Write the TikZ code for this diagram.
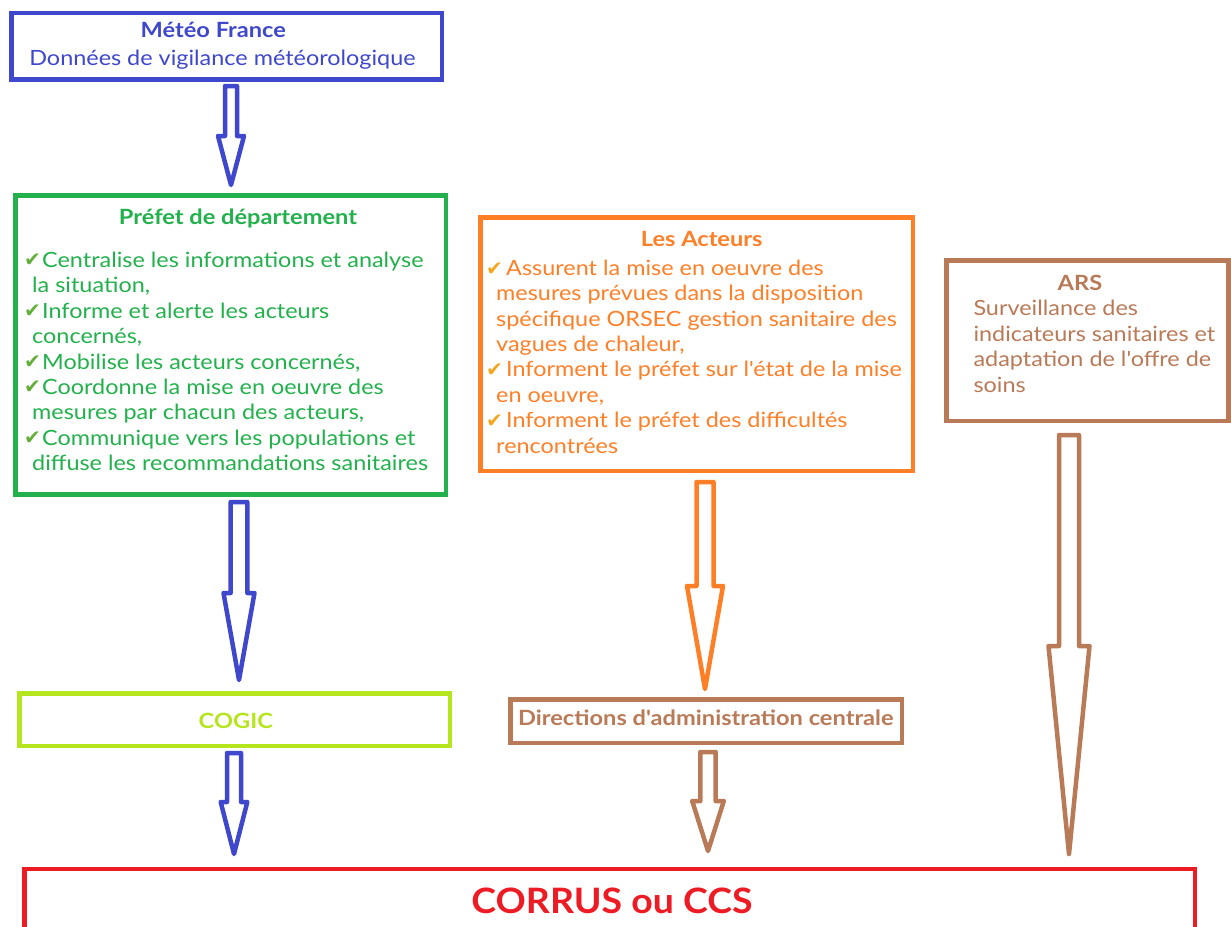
\documentclass[tikz,border=0pt]{standalone}
\usepackage{fontspec}
\newfontfamily\lato{Lato}[FakeStretch=1.115, BoldFeatures={FakeStretch=1.125}]
\newfontfamily\latoc{Lato}[FakeStretch=1.07]
\newfontfamily\symfont{DejaVu Sans}
\definecolor{cblue}{HTML}{3F48CC}
\definecolor{cgreen}{HTML}{22B14C}
\definecolor{corange}{HTML}{FF7F27}
\definecolor{cbrown}{HTML}{B97A57}
\definecolor{clime}{HTML}{B5E61D}
\definecolor{cred}{HTML}{ED1C24}
\definecolor{ckgreen}{RGB}{100,175,60}
\definecolor{ckorange}{RGB}{245,165,30}
\newcommand\fsnorm{\lato\fontsize{21}{25.4}\selectfont}
\newcommand\ckg{\makebox[18pt][l]{\raisebox{1pt}{\textcolor{ckgreen}{\symfont\fontsize{20}{20}\selectfont ✔}}}}
\newcommand\cko{\makebox[20pt][l]{\textcolor{ckorange}{\symfont\fontsize{20}{20}\selectfont ✔}}}
\newcommand\blockarrow[7]{%
  \draw[arrowshape, draw=#1] (#2-#4,#3) -- (#2+#4,#3) -- (#2+#4,#5) -- (#2+#6,#5)
    -- (#2,#7) -- (#2-#6,#5) -- (#2-#4,#5) -- cycle;}
\tikzset{
  box/.style={draw, line width=4.5pt, fill=white, inner sep=0pt},
  arrowshape/.style={line width=4.5pt, line join=round, fill=white},
  txt/.style={inner sep=0pt, font=\fsnorm},
  btxt/.style={inner sep=0pt, font=\fsnorm\bfseries},
}
\begin{document}
\begin{tikzpicture}[x=1pt,y=-1pt]
\useasboundingbox (0,0) rectangle (1231,926);
\clip (0,0) rectangle (1231,926);
\fill[white] (0,0) rectangle (1231,926);

% boxes
\node[box, draw=cblue, minimum width=430.5pt, minimum height=66.5pt] (meteo) at (226.75,46.25) {};
\node[box, draw=cgreen, minimum width=430.5pt, minimum height=299pt] (prefet) at (230.75,345) {};
\node[box, draw=corange, minimum width=432.3pt, minimum height=253.5pt] (acteurs) at (696.65,344.25) {};
\node[box, draw=cbrown, minimum width=282.2pt, minimum height=160.5pt] (ars) at (1087.4,340.75) {};
\node[box, draw=clime, minimum width=430.5pt, minimum height=52.7pt] (cogic) at (234.75,719.65) {};
\node[box, draw=cbrown, minimum width=391.5pt, minimum height=43.3pt] (dac) at (706.25,721.15) {};
\node[box, draw=cred, minimum width=1170.5pt, minimum height=91pt] (corrus) at (609.75,914.5) {};

% texts
\node[btxt, anchor=base, text=cblue] (meteoT) at (213.3,37.3) {Météo France};
\node[txt, anchor=base, text=cblue] (meteoS) at (222.5,65.7) {Données de vigilance météorologique};

\node[btxt, anchor=base, text=cgreen] (prefetT) at (238,224.3) {Préfet de département};
\node[txt, anchor=north west, align=left, text=cgreen] (prefetL) at (24,249.3)
 {\rule{0pt}{18pt}\ckg Centralise les informations et analyse\\
  \hspace*{8pt}la situation,\\
  \ckg Informe et alerte les acteurs\\
  \hspace*{8pt}concernés,\\
  \ckg Mobilise les acteurs concernés,\\
  \ckg Coordonne la mise en oeuvre des\\
  \hspace*{8pt}mesures par chacun des acteurs,\\
  \ckg Communique vers les populations et\\
  \hspace*{8pt}diffuse les recommandations sanitaires};

\node[btxt, anchor=base, text=corange] (acteursT) at (701.7,246) {Les Acteurs};
\node[txt, anchor=north west, align=left, text=corange] (acteursL) at (486,257)
 {\rule{0pt}{18pt}\cko Assurent la mise en oeuvre des\\
  \hspace*{10pt}mesures prévues dans la disposition\\
  \hspace*{10pt}spécifique ORSEC gestion sanitaire des\\
  \hspace*{10pt}vagues de chaleur,\\
  \cko Informent le préfet sur l'état de la mise\\
  \hspace*{10pt}en oeuvre,\\
  \cko Informent le préfet des difficultés\\
  \hspace*{10pt}rencontrées};

\node[btxt, anchor=base, text=cbrown] (arsT) at (1080,290) {ARS};
\node[txt, anchor=north west, align=left, text=cbrown] (arsL) at (973.3,297.7)
 {\rule{0pt}{18pt}Surveillance des\\
  indicateurs sanitaires et\\
  adaptation de l'offre de\\
  soins};

\node[btxt, anchor=base, text=clime] (cogicT) at (235.8,728.3) {COGIC};
\node[btxt, anchor=base, text=cbrown] (dacT) at (705.8,725) {Directions d'administration centrale};
\node[inner sep=0pt, anchor=base, text=cred, font=\latoc\fontsize{35}{40}\selectfont\bfseries] (corrusT) at (612,913) {CORRUS ou CCS};

% block arrows
\blockarrow{cblue}{231}{86}{6}{136}{13}{185}
\blockarrow{cblue}{239}{502}{8.3}{593}{15.5}{680}
\blockarrow{corange}{705}{482}{8.5}{586}{18}{689}
\blockarrow{cbrown}{1069}{435}{10}{646}{20.5}{854}
\blockarrow{cblue}{234}{753}{7}{802}{13.3}{854}
\blockarrow{cbrown}{708}{752}{7.7}{801}{15.8}{851}
\end{tikzpicture}
\end{document}
